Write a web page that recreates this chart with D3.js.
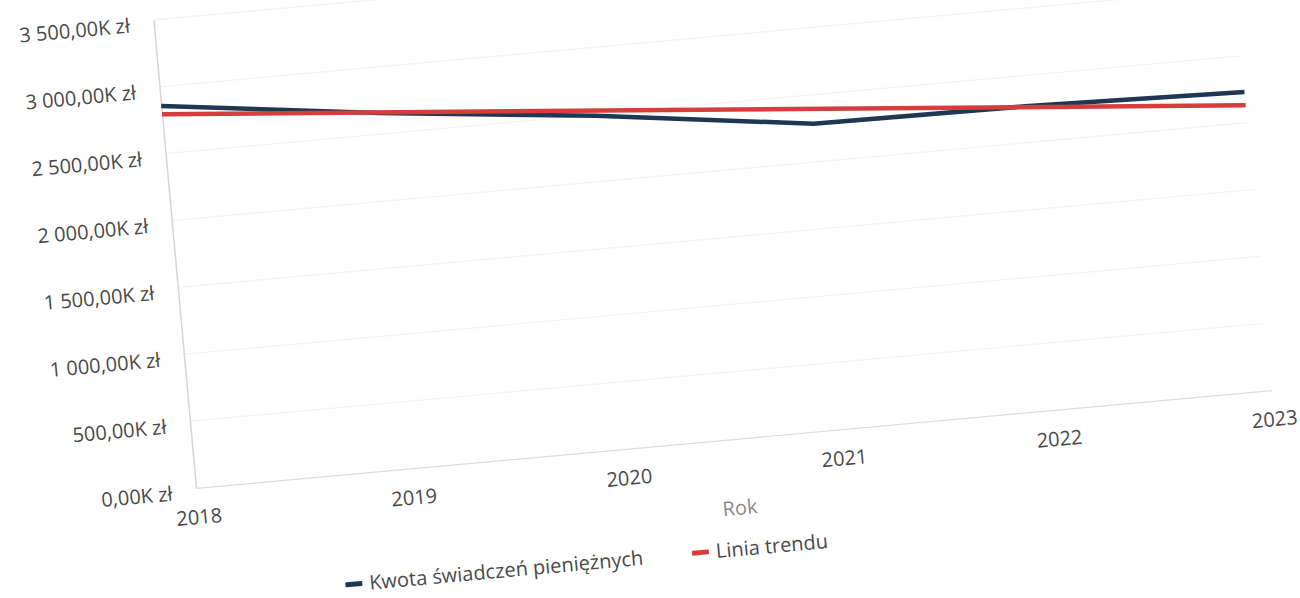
<!DOCTYPE html>
<html><head><meta charset="utf-8">
<script src="https://cdn.jsdelivr.net/npm/d3@7"></script>
<style>
body{margin:0;background:#fff}
svg{display:block}
text{font-family:"Open Sans",sans-serif}
</style>
</head><body>
<svg id="c" width="1300" height="598"></svg>
<script>
// ---- data ----
const years = ["2018","2019","2020","2021","2022","2023"];
const kwota = [2857, 2658, 2490, 2285, 2271, 2229];      // K zł
const trendYears = ["2018","2023"];
const trendValues = [2795, 2130];                          // K zł
const yTicks = [0, 500, 1000, 1500, 2000, 2500, 3000, 3500];
const yTickLabels = ["0,00K zł","500,00K zł","1 000,00K zł","1 500,00K zł","2 000,00K zł","2 500,00K zł","3 000,00K zł","3 500,00K zł"];
const seriesNames = ["Kwota świadczeń pieniężnych","Linia trendu"];
const seriesColors = ["#1f3654","#d63d3d"];
const xTitle = "Rok";

// ---- layout ----
const W = 1080, H = 470;
const svg = d3.select("#c");
const g = svg.append("g").attr("transform","translate(196,488) rotate(-5.2)");

const x = d3.scalePoint().domain(years).range([0, W]);
const y = d3.scaleLinear().domain([0, 3500]).range([0, -H]);

// gridlines
g.append("g").selectAll("line").data(yTicks.filter(d=>d>0)).join("line")
  .attr("x1",0).attr("x2",W).attr("y1",d=>y(d)).attr("y2",d=>y(d))
  .attr("stroke","#f3f3f3").attr("stroke-width",1.2);

// y axis
const yAxis = d3.axisLeft(y).tickValues(yTicks)
  .tickFormat((d,i)=>yTickLabels[i]).tickSize(0).tickPadding(24);
const ya = g.append("g").call(yAxis);
ya.select(".domain").attr("stroke","#d4d5e0").attr("stroke-width",1.5);
ya.selectAll("text").attr("font-size",20).attr("fill","#4a4a4a").attr("dy","0.5em");

// x axis
const xAxis = d3.axisBottom(x).tickSize(0).tickPadding(22);
const xa = g.append("g").call(xAxis);
xa.select(".domain").attr("stroke","#dcdcdc").attr("stroke-width",1.2);
xa.selectAll("text").attr("font-size",20).attr("fill","#4a4a4a");

// x title
g.append("text").attr("x",W/2).attr("y",76).attr("text-anchor","middle")
  .attr("font-size",20).attr("fill","#8a8a8a").text(xTitle);

// lines
const line = d3.line().x(d=>x(d[0])).y(d=>y(d[1]));
g.append("path").datum(years.map((yr,i)=>[yr,kwota[i]]))
  .attr("d",line).attr("fill","none").attr("stroke",seriesColors[0])
  .attr("stroke-width",4.5).attr("stroke-linejoin","round");
g.append("path").datum(trendYears.map((yr,i)=>[yr,trendValues[i]]))
  .attr("d",line).attr("fill","none").attr("stroke",seriesColors[1])
  .attr("stroke-width",4.5);

// legend
const legX = [140, 488];
const leg = g.append("g").attr("transform","translate(0,110)");
seriesNames.forEach((nm,i)=>{
  const lg = leg.append("g").attr("transform",`translate(${legX[i]},0)`);
  lg.append("rect").attr("x",0).attr("y",-2.5).attr("width",17).attr("height",5)
    .attr("rx",1).attr("fill",seriesColors[i]);
  lg.append("text").attr("x",24).attr("y",7).attr("font-size",20)
    .attr("fill","#4a4a4a").text(nm);
});
</script>
</body></html>
